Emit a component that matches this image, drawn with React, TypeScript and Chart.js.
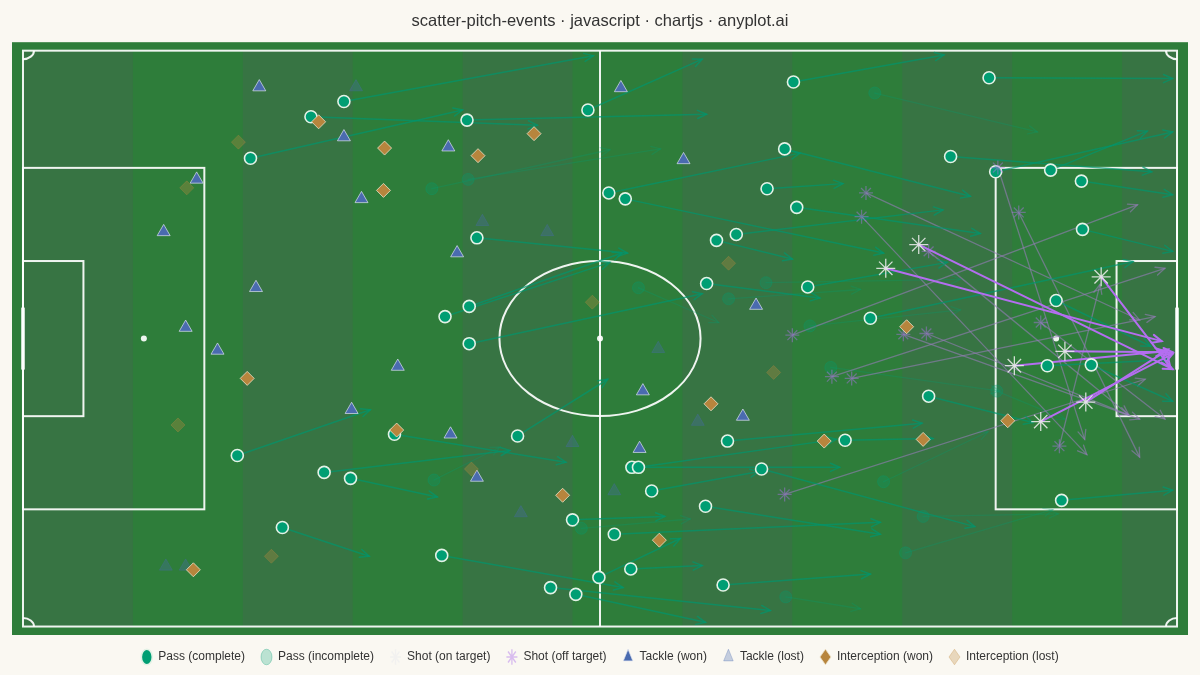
import React, { useEffect, useRef } from "react";
import { Chart, registerables } from "chart.js";

Chart.register(...registerables);

// ---------- DATA (metres, pitch 105 x 68, y measured from top touchline) ----------
const passCompleteX = [29.2, 26.2, 20.7, 40.4, 51.4, 70.1, 87.9, 69.3, 84.4, 88.5, 93.5, 96.3, 96.4, 67.7, 70.4, 53.3, 54.8, 63.1, 64.9, 41.3, 62.2, 71.4, 77.1, 94.0, 93.2, 97.2, 82.4, 74.8, 64.1, 67.2, 55.4, 56.0, 57.2, 62.1, 50.0, 53.8, 55.3, 52.4, 63.7, 48.0, 50.3, 38.1, 45.0, 40.6, 38.4, 40.6, 33.8, 29.8, 27.4, 19.5, 23.6, 94.5];
const passCompleteY = [6.0, 7.8, 12.7, 8.2, 7.0, 3.7, 3.2, 11.6, 12.5, 14.3, 14.1, 15.4, 21.1, 16.3, 18.5, 16.8, 17.5, 22.4, 21.7, 22.1, 27.5, 27.9, 31.6, 29.5, 37.2, 37.1, 40.8, 46.0, 46.1, 49.4, 49.2, 49.2, 52.0, 53.8, 55.4, 57.1, 61.2, 62.2, 63.1, 63.4, 64.2, 59.6, 45.5, 30.2, 31.4, 34.6, 45.3, 50.5, 49.8, 47.8, 56.3, 53.1];
const passCompleteEndX = [51.9, 46.8, 40.0, 62.2, 61.8, 83.8, 104.6, 86.2, 102.7, 104.6, 102.3, 104.6, 104.6, 74.6, 87.1, 70.7, 78.3, 70.0, 83.7, 55.0, 72.5, 84.1, 101.0, 102.6, 104.2, 104.6, 91.9, 82.8, 81.8, 86.6, 74.3, 74.0, 67.0, 78.0, 58.4, 78.0, 61.8, 59.8, 77.1, 68.0, 62.1, 54.6, 53.2, 54.5, 53.4, 61.8, 49.4, 37.7, 44.3, 31.6, 31.5, 104.6];
const passCompleteEndY = [0.6, 8.8, 7.0, 7.5, 1.0, 0.5, 3.3, 17.2, 14.3, 9.6, 9.5, 17.0, 23.7, 15.7, 21.6, 12.1, 23.9, 24.6, 18.8, 23.9, 29.2, 25.0, 24.9, 34.9, 36.5, 41.4, 43.9, 45.8, 44.0, 56.2, 49.2, 45.9, 49.7, 57.1, 55.0, 55.7, 60.8, 57.6, 61.8, 66.1, 67.5, 63.4, 38.8, 23.9, 25.0, 28.7, 48.6, 52.7, 47.2, 42.4, 59.7, 51.9];

const passIncompleteX = [37.2, 40.5, 77.5, 56.0, 64.2, 67.6, 71.6, 73.5, 88.6, 37.4, 50.8, 69.4, 78.3, 81.9, 80.3];
const passIncompleteY = [16.3, 15.2, 5.0, 28.0, 29.3, 27.4, 32.5, 37.4, 40.2, 50.7, 56.4, 64.5, 50.9, 55.0, 59.3];
const passIncompleteEndX = [53.4, 58.0, 92.3, 63.3, 76.2, 85.3, 85.3, 88.9, 94.8, 43.4, 60.7, 76.2, 87.8, 94.2, 93.7];
const passIncompleteEndY = [11.7, 11.6, 9.6, 32.1, 28.2, 27.0, 30.6, 40.2, 43.5, 46.8, 55.3, 65.9, 45.0, 54.7, 54.2];

const shotOnX = [78.5, 81.5, 98.1, 94.8, 90.2, 92.6, 96.7];
const shotOnY = [25.7, 22.9, 26.7, 35.5, 37.2, 43.8, 41.5];
const shotOnEndX = [103.6, 104.6, 104.4, 104.6, 103.9, 104.6, 104.2];
const shotOnEndY = [34.3, 37.6, 37.4, 35.6, 35.5, 35.8, 35.3];

const shotOffX = [76.7, 76.3, 82.4, 88.7, 90.6, 92.6, 70.0, 73.6, 75.4, 80.1, 82.2, 69.3, 94.3];
const shotOffY = [16.8, 19.6, 23.7, 13.8, 19.1, 32.1, 33.6, 38.5, 38.7, 33.5, 33.4, 52.4, 46.7];
const shotOffEndX = [101.6, 96.8, 100.6, 96.6, 101.6, 103.9, 101.4, 103.9, 103.0, 101.6, 100.6, 102.1, 98.0];
const shotOffEndY = [31.8, 47.7, 43.0, 45.9, 48.0, 43.5, 18.2, 25.7, 31.4, 43.5, 43.0, 38.8, 27.6];

const tackleWonX = [21.5, 54.4, 29.2, 38.7, 15.8, 30.8, 60.1, 12.8, 39.5, 21.2, 14.8, 17.7, 34.1, 66.7, 56.4, 29.9, 65.5, 38.9, 56.1, 41.3];
const tackleWonY = [4.3, 4.4, 10.2, 11.4, 15.2, 17.5, 12.9, 21.4, 23.9, 28.0, 32.7, 35.4, 37.3, 30.1, 40.2, 42.4, 43.2, 45.3, 47.0, 50.4];

const tackleLostX = [30.3, 41.8, 47.7, 57.8, 61.4, 50.0, 53.8, 45.3, 13.0, 14.8];
const tackleLostY = [4.3, 20.2, 21.4, 35.2, 43.8, 46.3, 52.0, 54.6, 60.9, 60.9];

const interceptWonX = [26.9, 32.9, 32.8, 41.4, 46.5, 20.4, 62.6, 80.4, 72.9, 81.9, 89.6, 49.1, 57.9, 15.5, 34.0];
const interceptWonY = [8.4, 11.5, 16.5, 12.4, 9.8, 38.7, 41.7, 32.6, 46.1, 45.9, 43.7, 52.5, 57.8, 61.3, 44.8];

const interceptLostX = [19.6, 14.9, 14.1, 22.6, 51.8, 64.2, 68.3, 40.8];
const interceptLostY = [10.8, 16.2, 44.2, 59.7, 29.7, 25.1, 38.0, 49.4];

const legendLabels = [
  "Pass (complete)",
  "Pass (incomplete)",
  "Shot (on target)",
  "Shot (off target)",
  "Tackle (won)",
  "Tackle (lost)",
  "Interception (won)",
  "Interception (lost)",
];

const TITLE = "scatter-pitch-events · javascript · chartjs · anyplot.ai";

// ---------- STYLE ----------
const PAGE_BG = "#FAF8F2";
const PITCH_LIGHT = "#2E7D3A";
const PITCH_DARK = "#377443";
const LINE = "rgba(255,255,255,0.92)";
const FONT = "'Liberation Sans', Arial, sans-serif";

const zip = (xs: number[], ys: number[]) => xs.map((x, i) => ({ x, y: ys[i] }));

type ArrowSet = { sx: number[]; sy: number[]; ex: number[]; ey: number[]; color: string; width: number };

const arrowSets: ArrowSet[] = [
  { sx: passIncompleteX, sy: passIncompleteY, ex: passIncompleteEndX, ey: passIncompleteEndY, color: "rgba(0,158,115,0.28)", width: 1.3 },
  { sx: shotOffX, sy: shotOffY, ex: shotOffEndX, ey: shotOffEndY, color: "rgba(150,125,185,0.6)", width: 1.3 },
  { sx: passCompleteX, sy: passCompleteY, ex: passCompleteEndX, ey: passCompleteEndY, color: "rgba(0,150,110,0.7)", width: 1.5 },
  { sx: shotOnX, sy: shotOnY, ex: shotOnEndX, ey: shotOnEndY, color: "#B46EF0", width: 2 },
];

function drawArrow(ctx: CanvasRenderingContext2D, x1: number, y1: number, x2: number, y2: number, head: number) {
  ctx.beginPath();
  ctx.moveTo(x1, y1);
  ctx.lineTo(x2, y2);
  ctx.stroke();
  const a = Math.atan2(y2 - y1, x2 - x1);
  const s = 0.42;
  ctx.beginPath();
  ctx.moveTo(x2 - head * Math.cos(a - s), y2 - head * Math.sin(a - s));
  ctx.lineTo(x2, y2);
  ctx.lineTo(x2 - head * Math.cos(a + s), y2 - head * Math.sin(a + s));
  ctx.stroke();
}

const pitchPlugin = {
  id: "pitch",
  beforeDatasetsDraw(chart: any) {
    const { ctx, chartArea, scales } = chart;
    const X = (v: number) => scales.x.getPixelForValue(v);
    const Y = (v: number) => scales.y.getPixelForValue(v);
    ctx.save();
    ctx.fillStyle = PITCH_LIGHT;
    ctx.fillRect(chartArea.left, chartArea.top, chartArea.right - chartArea.left, chartArea.bottom - chartArea.top);
    for (let i = 0; i < 105; i += 20) {
      ctx.fillStyle = PITCH_DARK;
      const x0 = X(i);
      const x1 = X(Math.min(i + 10, 105));
      ctx.fillRect(x0, Y(0), x1 - x0, Y(68) - Y(0));
    }
    ctx.strokeStyle = LINE;
    ctx.lineWidth = 2;
    const rect = (a: number, b: number, c: number, d: number) => {
      ctx.strokeRect(X(a), Y(b), X(c) - X(a), Y(d) - Y(b));
    };
    rect(0, 0, 105, 68);
    ctx.beginPath();
    ctx.moveTo(X(52.5), Y(0));
    ctx.lineTo(X(52.5), Y(68));
    ctx.stroke();
    ctx.beginPath();
    ctx.ellipse(X(52.5), Y(34), X(9.15) - X(0), Y(9.15) - Y(0), 0, 0, Math.PI * 2);
    ctx.stroke();
    rect(0, 13.84, 16.5, 54.16);
    rect(88.5, 13.84, 105, 54.16);
    rect(0, 24.84, 5.5, 43.16);
    rect(99.5, 24.84, 105, 43.16);
    ctx.fillStyle = LINE;
    for (const sx of [11, 52.5, 94]) {
      ctx.beginPath();
      ctx.arc(X(sx), Y(34), 3, 0, Math.PI * 2);
      ctx.fill();
    }
    const rx = X(1) - X(0);
    const ry = Y(1) - Y(0);
    const corners: [number, number, number, number][] = [
      [0, 0, 0, Math.PI / 2],
      [105, 0, Math.PI / 2, Math.PI],
      [105, 68, Math.PI, Math.PI * 1.5],
      [0, 68, Math.PI * 1.5, Math.PI * 2],
    ];
    for (const [cx, cy, a0, a1] of corners) {
      ctx.beginPath();
      ctx.ellipse(X(cx), Y(cy), rx, ry, 0, a0, a1);
      ctx.stroke();
    }
    ctx.lineWidth = 4;
    ctx.strokeStyle = "rgba(255,255,255,0.75)";
    for (const gx of [0, 105]) {
      ctx.beginPath();
      ctx.moveTo(X(gx), Y(30.34));
      ctx.lineTo(X(gx), Y(37.66));
      ctx.stroke();
    }
    ctx.lineCap = "round";
    for (const set of arrowSets) {
      ctx.strokeStyle = set.color;
      ctx.lineWidth = set.width;
      for (let i = 0; i < set.sx.length; i++) {
        drawArrow(ctx, X(set.sx[i]), Y(set.sy[i]), X(set.ex[i]), Y(set.ey[i]), 10);
      }
    }
    ctx.restore();
  },
};

export default function App() {
  const ref = useRef<HTMLCanvasElement | null>(null);
  useEffect(() => {
    document.body.style.margin = "0";
    document.body.style.background = PAGE_BG;
    if (!ref.current) return;
    const datasets: any[] = [
      { label: legendLabels[0], data: zip(passCompleteX, passCompleteY), pointStyle: "circle", pointRadius: 6, backgroundColor: "#009E73", borderColor: "#E3F2E6", borderWidth: 1.6, order: 7 },
      { label: legendLabels[1], data: zip(passIncompleteX, passIncompleteY), pointStyle: "circle", pointRadius: 6, backgroundColor: "rgba(0,158,115,0.25)", borderColor: "rgba(0,158,115,0.3)", borderWidth: 1, order: 6 },
      { label: legendLabels[2], data: zip(shotOnX, shotOnY), pointStyle: "star", pointRadius: 9.5, backgroundColor: "rgba(255,255,255,0)", borderColor: "rgba(240,240,240,0.85)", borderWidth: 1.3, order: 5 },
      { label: legendLabels[3], data: zip(shotOffX, shotOffY), pointStyle: "star", pointRadius: 7, backgroundColor: "rgba(180,110,240,0)", borderColor: "rgba(175,115,235,0.45)", borderWidth: 1.3, order: 4 },
      { label: legendLabels[4], data: zip(tackleWonX, tackleWonY), pointStyle: "triangle", pointRadius: 7.5, backgroundColor: "#4A6BAF", borderColor: "rgba(220,225,240,0.7)", borderWidth: 1, order: 3 },
      { label: legendLabels[5], data: zip(tackleLostX, tackleLostY), pointStyle: "triangle", pointRadius: 7.5, backgroundColor: "rgba(74,107,175,0.3)", borderColor: "rgba(74,107,175,0.3)", borderWidth: 1, order: 2 },
      { label: legendLabels[6], data: zip(interceptWonX, interceptWonY), pointStyle: "rectRot", pointRadius: 7, backgroundColor: "#B7853D", borderColor: "rgba(235,225,200,0.8)", borderWidth: 1, order: 1 },
      { label: legendLabels[7], data: zip(interceptLostX, interceptLostY), pointStyle: "rectRot", pointRadius: 7, backgroundColor: "rgba(192,138,64,0.3)", borderColor: "rgba(192,138,64,0.3)", borderWidth: 1, order: 0 },
    ];
    const chart = new Chart(ref.current, {
      type: "scatter",
      data: { datasets },
      options: {
        animation: false,
        responsive: false,
        devicePixelRatio: 1,
        events: [],
        layout: { padding: { left: 12, right: 12, top: 0, bottom: 2 } },
        scales: {
          x: { type: "linear", min: -1, max: 106, display: false },
          y: { type: "linear", min: -1, max: 69, reverse: true, display: false },
        },
        plugins: {
          title: {
            display: true,
            text: TITLE,
            color: "#333333",
            font: { size: 16.5, weight: "normal", family: FONT },
            padding: { top: 12, bottom: 10.4 },
          },
          legend: {
            display: true,
            position: "bottom",
            labels: {
              usePointStyle: true,
              pointStyleWidth: 11,
              boxHeight: 11,
              padding: 16,
              color: "#333333",
              font: { size: 12, family: FONT },
              sort: (a: any, b: any) => a.datasetIndex - b.datasetIndex,
            },
          },
          tooltip: { enabled: false },
        },
      },
      plugins: [pitchPlugin],
    });
    return () => chart.destroy();
  }, []);
  return (
    <div style={{ width: 1200, height: 675, background: PAGE_BG }}>
      <canvas ref={ref} width={1200} height={675} style={{ display: "block" }} />
    </div>
  );
}
